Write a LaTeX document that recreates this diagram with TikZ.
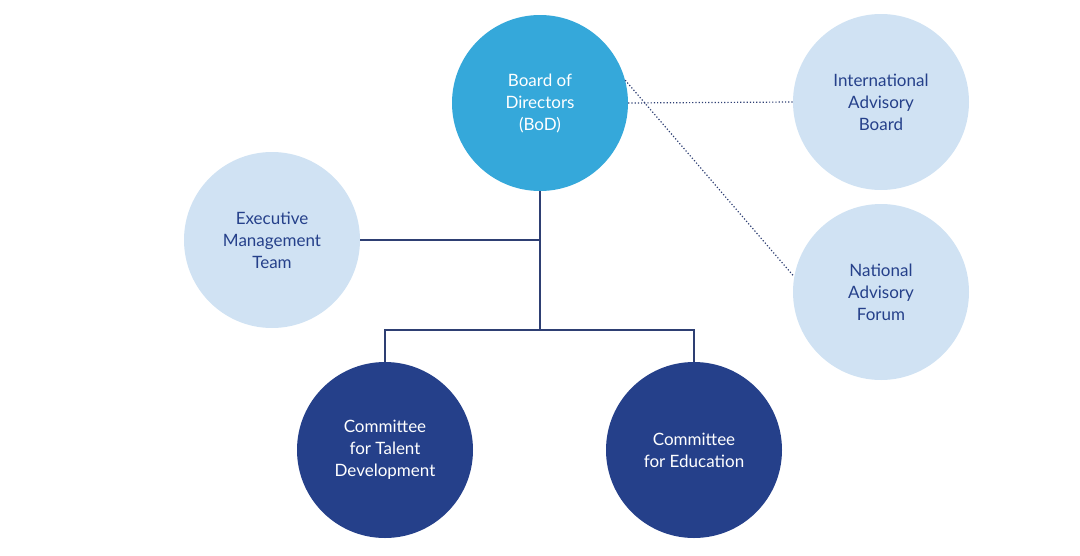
\documentclass[tikz,border=0pt]{standalone}
\usepackage{fontspec}
\setmainfont{Lato}
\definecolor{bodblue}{HTML}{35A8DA}
\definecolor{paleblue}{HTML}{D0E2F3}
\definecolor{darkblue}{HTML}{25408A}
\definecolor{linecol}{HTML}{2E3F73}
\begin{document}
\begin{tikzpicture}[x=1pt,y=-1pt]
  \tikzstyle{unit}  = [circle,minimum size=176pt,inner sep=0pt,align=center,
                       font=\fontsize{17}{22}\selectfont]
  \tikzstyle{board} = [unit,fill=bodblue,text=white]
  \tikzstyle{pale}  = [unit,fill=paleblue,text=darkblue]
  \tikzstyle{comm}  = [unit,fill=darkblue,text=white]
  \tikzstyle{link}  = [draw=linecol,line width=1.6pt]
  \tikzstyle{adv}   = [draw=linecol,line width=1.2pt,dotted]
  \useasboundingbox (0,0) rectangle (1080,555);
  % circles
  \path (540,103) node[board](bod) {Board of\\Directors\\(BoD)};
  \path (881,102) node[pale](iab) {International\\Advisory\\Board};
  \path (881,292) node[pale](naf) {National\\Advisory\\Forum};
  \path (272,240) node[pale](emt) {Executive\\Management\\Team};
  \path (385,450) node[comm](ctd) {Committee\\for Talent\\Development};
  \path (694,450) node[comm](ce)  {Committee\\for Education};
  \coordinate (split) at (540,330);
  \coordinate (mid) at (540,240);
  % tree
  \draw[link] (bod.south) -- (split);
  \draw[link] (emt.east) -- (mid);
  \draw[link] (ctd.north) |- (split) -| (ce.north);
  % advisory
  \draw[adv] (bod.east) -- (iab.west);
  \draw[adv] (bod.15) -- (naf.170);
\end{tikzpicture}
\end{document}
